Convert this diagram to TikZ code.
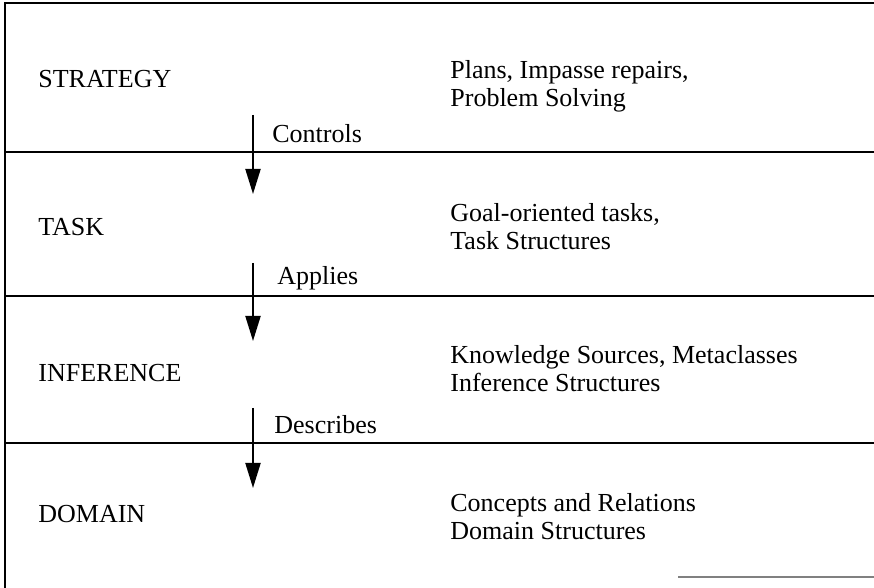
\documentclass[tikz,border=0pt]{standalone}
\usepackage{fontspec}
\setmainfont{Liberation Serif}
\usetikzlibrary{arrows.meta}
\begin{document}
\begin{tikzpicture}[x=0.5pt,y=-0.5pt,
  frame/.style={line width=1.4pt},
  flow/.style={line width=1pt,-{Triangle[length=12.5pt,width=7.5pt]}},
  layer/.style={anchor=base west,inner sep=0pt,font=\fontsize{13}{14}\selectfont},
  note/.style={anchor=base west,inner sep=0pt,align=left,font=\fontsize{13}{14}\selectfont},
  rel/.style={anchor=base west,inner sep=0pt,font=\fontsize{13}{14}\selectfont}]
\useasboundingbox (0,0) rectangle (874,588);

% frame and layer separators
\coordinate (tl) at (5,3);
\coordinate (tr) at (874,3);
\coordinate (bl) at (5,588);
\draw[frame] (tr) -- (tl) -- (bl);
\foreach \y/\n in {152/s1,296/s2,443/s3}{
  \coordinate (\n w) at (5,\y);
  \coordinate (\n e) at (874,\y);
  \draw[frame] (\n w) -- (\n e);
}
\coordinate (bx) at (678,577);
\coordinate (by) at (874,577);
\draw[gray,line width=0.8pt] (bx) -- (by);

% layer names
\node[layer] (strategy)  at (38,88)  {STRATEGY};
\node[layer] (task)      at (38,236) {TASK};
\node[layer] (inference) at (38,382) {INFERENCE};
\node[layer] (domain)    at (38,523) {DOMAIN};

% layer contents (anchored on the baseline of the second line)
\node[note] (n1) at (450,107) {Plans, Impasse repairs,\\Problem Solving};
\node[note] (n2) at (450,250) {Goal-oriented tasks,\\Task Structures};
\node[note] (n3) at (450,392) {Knowledge Sources, Metaclasses\\Inference Structures};
\node[note] (n4) at (450,539) {Concepts and Relations\\Domain Structures};

% relations between layers
\coordinate (a1s) at (253,115); \coordinate (a1e) at (253,194);
\coordinate (a2s) at (253,263); \coordinate (a2e) at (253,341);
\coordinate (a3s) at (253,408); \coordinate (a3e) at (253,488);
\draw[flow] (a1s) -- (a1e);
\draw[flow] (a2s) -- (a2e);
\draw[flow] (a3s) -- (a3e);
\node[rel] (controls)  at (272,143) {Controls};
\node[rel] (applies)   at (277,285) {Applies};
\node[rel] (describes) at (274,434) {Describes};
\end{tikzpicture}
\end{document}
